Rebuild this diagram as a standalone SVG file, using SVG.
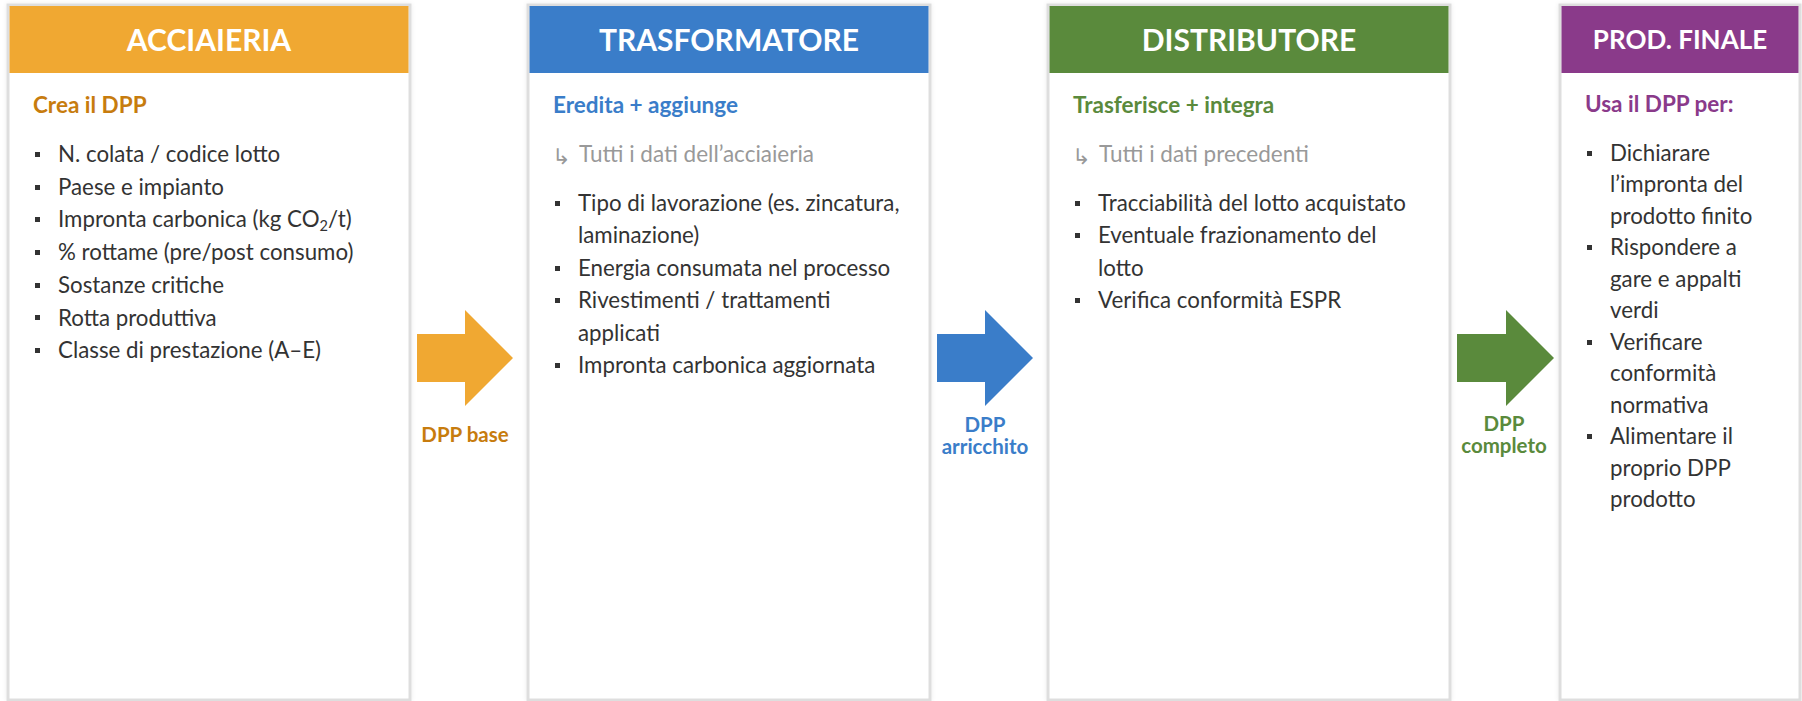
<svg xmlns="http://www.w3.org/2000/svg" width="1802" height="701" viewBox="0 0 1802 701">
<defs>
<style>
.box{fill:#ffffff;stroke:#dedede;stroke-width:3}
.title{font-family:Lato,"Liberation Sans",sans-serif;font-weight:700;font-size:30px;fill:#ffffff;text-anchor:middle}
.sub{font-family:Lato,"Liberation Sans",sans-serif;font-weight:700;font-size:22.5px}
.item{font-family:Lato,"Liberation Sans",sans-serif;font-size:22.3px;fill:#333333}
.gray{font-family:Lato,"Liberation Sans",sans-serif;font-size:22.5px;fill:#999999}
.arrowsym{font-family:"DejaVu Sans",sans-serif;font-size:22px;fill:#999999}
.lbl{font-family:Lato,"Liberation Sans",sans-serif;font-weight:700;font-size:20.5px;text-anchor:middle}
.dot{fill:#333333}
</style>
<filter id="sh" x="-5%" y="-5%" width="110%" height="110%">
<feDropShadow dx="0" dy="0" stdDeviation="2" flood-color="#000000" flood-opacity="0.08"/>
</filter>
</defs>
<rect width="1802" height="701" fill="#ffffff"/>

<g id="acciaieria">
<rect class="box" x="8" y="5" width="402" height="695" filter="url(#sh)"/>
<rect x="9.5" y="6" width="399" height="67" fill="#F0A832"/>
<text class="title" x="209" y="50.5">ACCIAIERIA</text>
<text class="sub" x="33" y="113" fill="#C77C0E">Crea il DPP</text>
<g class="dot">
<rect x="35" y="152" width="5" height="5"/><rect x="35" y="185" width="5" height="5"/><rect x="35" y="217" width="5" height="5"/><rect x="35" y="250" width="5" height="5"/><rect x="35" y="283" width="5" height="5"/><rect x="35" y="315" width="5" height="5"/><rect x="35" y="348" width="5" height="5"/>
</g>
<text class="item" x="58" y="162">N. colata / codice lotto</text>
<text class="item" x="58" y="194.7">Paese e impianto</text>
<text class="item" x="58" y="227.4">Impronta carbonica (kg CO<tspan font-size="14.5px" dy="4">2</tspan><tspan dy="-4">/t)</tspan></text>
<text class="item" x="58" y="260">% rottame (pre/post consumo)</text>
<text class="item" x="58" y="292.8">Sostanze critiche</text>
<text class="item" x="58" y="325.5">Rotta produttiva</text>
<text class="item" x="58" y="358.2">Classe di prestazione (A–E)</text>
</g>

<g id="trasformatore">
<rect class="box" x="528" y="5" width="402" height="695" filter="url(#sh)"/>
<rect x="529.5" y="6" width="399" height="67" fill="#3A7DC9"/>
<text class="title" x="729" y="50.5">TRASFORMATORE</text>
<text class="sub" x="553" y="113" fill="#3A7DC9">Eredita + aggiunge</text>
<text class="arrowsym" x="552" y="164">↳</text>
<text class="gray" x="579" y="162">Tutti i dati dell’acciaieria</text>
<g class="dot">
<rect x="555" y="201" width="5" height="5"/><rect x="555" y="266" width="5" height="5"/><rect x="555" y="298" width="5" height="5"/><rect x="555" y="363" width="5" height="5"/>
</g>
<text class="item" x="578" y="210.7">Tipo di lavorazione (es. zincatura,</text>
<text class="item" x="578" y="243.2">laminazione)</text>
<text class="item" x="578" y="275.8">Energia consumata nel processo</text>
<text class="item" x="578" y="308.3">Rivestimenti / trattamenti</text>
<text class="item" x="578" y="340.8">applicati</text>
<text class="item" x="578" y="373.3">Impronta carbonica aggiornata</text>
</g>

<g id="distributore">
<rect class="box" x="1048" y="5" width="402" height="695" filter="url(#sh)"/>
<rect x="1049.5" y="6" width="399" height="67" fill="#5A8A3C"/>
<text class="title" x="1249" y="50.5">DISTRIBUTORE</text>
<text class="sub" x="1073" y="113" fill="#5A8A3C">Trasferisce + integra</text>
<text class="arrowsym" x="1072" y="164">↳</text>
<text class="gray" x="1099" y="162">Tutti i dati precedenti</text>
<g class="dot">
<rect x="1075" y="201" width="5" height="5"/><rect x="1075" y="233" width="5" height="5"/><rect x="1075" y="298" width="5" height="5"/>
</g>
<text class="item" x="1098" y="210.5">Tracciabilità del lotto acquistato</text>
<text class="item" x="1098" y="243">Eventuale frazionamento del</text>
<text class="item" x="1098" y="275.5">lotto</text>
<text class="item" x="1098" y="308">Verifica conformità ESPR</text>
</g>

<g id="prod-finale">
<rect class="box" x="1560" y="5" width="240" height="695" filter="url(#sh)"/>
<rect x="1561.5" y="6" width="237" height="67" fill="#8A3A8A"/>
<text class="title" x="1680" y="49" style="font-size:26px">PROD. FINALE</text>
<text class="sub" x="1585" y="112" fill="#8A3A8A">Usa il DPP per:</text>
<g class="dot">
<rect x="1587" y="151" width="5" height="5"/><rect x="1587" y="245" width="5" height="5"/><rect x="1587" y="340" width="5" height="5"/><rect x="1587" y="434" width="5" height="5"/>
</g>
<text class="item" x="1610" y="160.8">Dichiarare</text>
<text class="item" x="1610" y="192.3">l’impronta del</text>
<text class="item" x="1610" y="223.8">prodotto finito</text>
<text class="item" x="1610" y="255.3">Rispondere a</text>
<text class="item" x="1610" y="286.8">gare e appalti</text>
<text class="item" x="1610" y="318.3">verdi</text>
<text class="item" x="1610" y="349.8">Verificare</text>
<text class="item" x="1610" y="381.3">conformità</text>
<text class="item" x="1610" y="412.8">normativa</text>
<text class="item" x="1610" y="444.3">Alimentare il</text>
<text class="item" x="1610" y="475.8">proprio DPP</text>
<text class="item" x="1610" y="507.3">prodotto</text>
</g>

<g id="connectors">
<polygon points="417,334 465,334 465,310 513,358 465,406 465,382 417,382" fill="#F0A832"/>
<text class="lbl" x="465" y="442" fill="#C77C0E">DPP base</text>
<polygon points="937,334 985,334 985,310 1033,358 985,406 985,382 937,382" fill="#3A7DC9"/>
<text class="lbl" x="985" y="432" fill="#3A7DC9">DPP</text>
<text class="lbl" x="985" y="454" fill="#3A7DC9">arricchito</text>
<polygon points="1457,334 1506,334 1506,310 1554,358 1506,406 1506,382 1457,382" fill="#5A8A3C"/>
<text class="lbl" x="1504" y="431" fill="#5A8A3C">DPP</text>
<text class="lbl" x="1504" y="453" fill="#5A8A3C">completo</text>
</g>
</svg>
